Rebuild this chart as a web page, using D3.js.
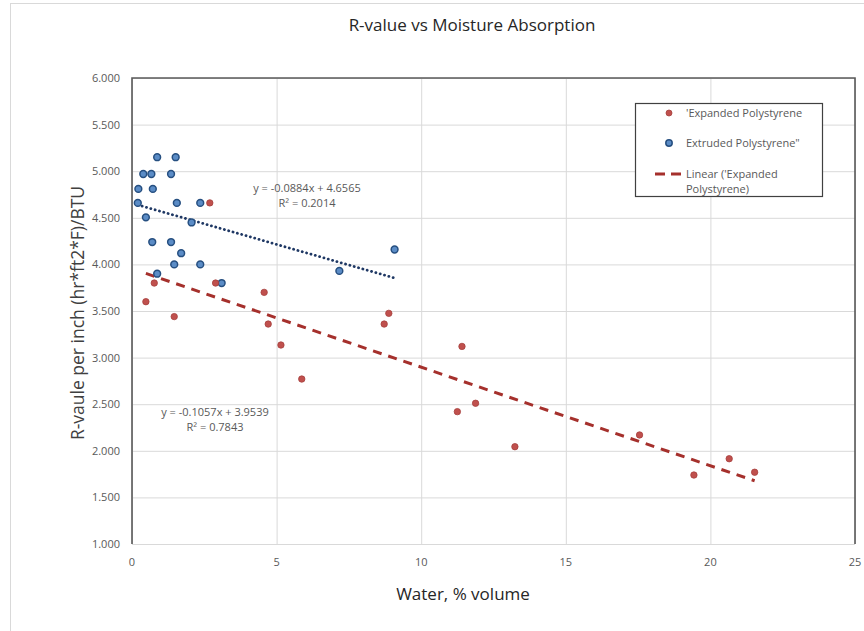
<!DOCTYPE html>
<html>
<head>
<meta charset="utf-8">
<script src="https://cdn.jsdelivr.net/npm/d3@7"></script>
<style>
  body { margin: 0; background: #fff; }
  text { font-family: "Open Sans", "Noto Sans", sans-serif; }
</style>
</head>
<body>
<script>
var w = 864;
var h = 631;

// Expanded polystyrene (red)
var epsWater = [2.69, 0.77, 2.89, 4.57, 0.48, 1.46, 4.71, 5.15, 5.87, 8.72, 8.88, 11.41, 11.25, 11.88, 13.24, 17.55, 19.43, 20.65, 21.53];
var epsR     = [4.66, 3.80, 3.80, 3.70, 3.60, 3.44, 3.36, 3.135, 2.77, 3.36, 3.475, 3.12, 2.42, 2.51, 2.044, 2.17, 1.74, 1.915, 1.77];

// Extruded polystyrene (blue)
var xpsWater = [0.87, 1.51, 0.39, 0.67, 1.35, 0.22, 0.72, 0.20, 1.55, 2.36, 0.48, 2.06, 0.70, 1.35, 1.70, 1.46, 2.36, 0.87, 3.10, 7.17, 9.08];
var xpsR     = [5.15, 5.15, 4.97, 4.97, 4.97, 4.81, 4.81, 4.66, 4.66, 4.66, 4.505, 4.45, 4.24, 4.24, 4.12, 4.00, 4.00, 3.90, 3.80, 3.93, 4.16];

// trendline coefficients [slope, intercept, r2]
var epsFit = [-0.1057, 3.9539, 0.7843];
var xpsFit = [-0.0884, 4.6565, 0.2014];

var xTicks = [0, 5, 10, 15, 20, 25];
var yTicks = [1, 1.5, 2, 2.5, 3, 3.5, 4, 4.5, 5, 5.5, 6];

var legendLabels = ["'Expanded Polystyrene", "Extruded Polystyrene\"", "Linear ('Expanded", "Polystyrene)"];

var pLeft = 132, pRight = 855, pTop = 78, pBottom = 544;

var svg = d3.select("body").append("svg")
    .attr("width", w)
    .attr("height", h);

// outer chart frame
svg.append("rect")
   .attr("x", 10.5).attr("y", 3.5)
   .attr("width", w + 20).attr("height", h + 20)
   .attr("fill", "none")
   .attr("stroke", "#d9d9d9");

var x = d3.scaleLinear().domain([0, 25]).range([pLeft, pRight]);
var y = d3.scaleLinear().domain([1, 6]).range([pBottom, pTop]);

// grid
svg.append("g")
   .attr("transform", "translate(0," + pBottom + ")")
   .call(d3.axisBottom(x).tickValues(xTicks).tickSize(-(pBottom - pTop)).tickFormat(""))
   .call(function(g) { g.select(".domain").remove(); })
   .selectAll("line").attr("stroke", "#d9d9d9");

svg.append("g")
   .attr("transform", "translate(" + pLeft + ",0)")
   .call(d3.axisLeft(y).tickValues(yTicks).tickSize(-(pRight - pLeft)).tickFormat(""))
   .call(function(g) { g.select(".domain").remove(); })
   .selectAll("line").attr("stroke", "#d9d9d9");

// plot border
svg.append("path")
   .attr("d", "M" + pLeft + "," + pBottom + "V" + pTop + "H" + pRight + "V" + pBottom)
   .attr("fill", "none")
   .attr("stroke", "#595959")
   .attr("stroke-width", 1.6);

// tick labels
svg.append("g").selectAll("text")
   .data(xTicks).enter().append("text")
   .attr("x", function(d) { return x(d); })
   .attr("y", 566)
   .attr("text-anchor", "middle")
   .attr("font-size", 11)
   .attr("fill", "#595959")
   .text(function(d) { return d; });

svg.append("g").selectAll("text")
   .data(yTicks).enter().append("text")
   .attr("x", 120)
   .attr("y", function(d) { return y(d) + 4; })
   .attr("text-anchor", "end")
   .attr("font-size", 11)
   .attr("fill", "#595959")
   .text(function(d) { return d.toFixed(3); });

// titles
svg.append("text")
   .attr("x", 472).attr("y", 31)
   .attr("text-anchor", "middle")
   .attr("font-size", 17)
   .attr("fill", "#262626")
   .text("R-value vs Moisture Absorption");

svg.append("text")
   .attr("x", 463).attr("y", 600)
   .attr("text-anchor", "middle")
   .attr("font-size", 17)
   .attr("fill", "#262626")
   .text("Water, % volume");

svg.append("text")
   .attr("transform", "translate(84,313) rotate(-90)")
   .attr("text-anchor", "middle")
   .attr("font-size", 17.5)
   .attr("fill", "#404040")
   .text("R-vaule per inch (hr*ft2*F)/BTU");

// trendlines over each series' x range
function trend(fit, xs) {
  var x0 = d3.min(xs), x1 = d3.max(xs);
  return [[x0, fit[0] * x0 + fit[1]], [x1, fit[0] * x1 + fit[1]]];
}
var line = d3.line().x(function(d) { return x(d[0]); }).y(function(d) { return y(d[1]); });

svg.append("path")
   .attr("d", line(trend(xpsFit, xpsWater)))
   .attr("stroke", "#1f3864")
   .attr("stroke-width", 2.8)
   .attr("stroke-dasharray", "0.1 4.4")
   .attr("stroke-linecap", "round")
   .attr("fill", "none");

svg.append("path")
   .attr("d", line(trend(epsFit, epsWater)))
   .attr("stroke", "#a5302c")
   .attr("stroke-width", 3)
   .attr("stroke-dasharray", "9 7")
   .attr("fill", "none");

// points
svg.append("g").selectAll("circle")
   .data(d3.zip(xpsWater, xpsR)).enter().append("circle")
   .attr("cx", function(d) { return x(d[0]); })
   .attr("cy", function(d) { return y(d[1]); })
   .attr("r", 3.4)
   .attr("fill", "#5b8cc6")
   .attr("stroke", "#264f80")
   .attr("stroke-width", 1.5);

svg.append("g").selectAll("circle")
   .data(d3.zip(epsWater, epsR)).enter().append("circle")
   .attr("cx", function(d) { return x(d[0]); })
   .attr("cy", function(d) { return y(d[1]); })
   .attr("r", 3.2)
   .attr("fill", "#c0504d")
   .attr("stroke", "#a6403d")
   .attr("stroke-width", 0.8);

// equation labels
function eqLabel(fit, cx, cy) {
  var g = svg.append("g").attr("font-size", 11).attr("fill", "#595959").attr("text-anchor", "middle");
  g.append("text").attr("x", cx).attr("y", cy)
   .text("y = " + fit[0].toFixed(4) + "x + " + fit[1].toFixed(4));
  g.append("text").attr("x", cx).attr("y", cy + 15)
   .text("R\u00b2 = " + fit[2].toFixed(4));
}
eqLabel(xpsFit, 307, 192);
eqLabel(epsFit, 215, 416);

// legend
var lg = svg.append("g");
lg.append("rect")
  .attr("x", 635.5).attr("y", 103.5)
  .attr("width", 187).attr("height", 93)
  .attr("fill", "#fff")
  .attr("stroke", "#404040")
  .attr("stroke-width", 1.2);
lg.append("circle").attr("cx", 669).attr("cy", 113).attr("r", 3)
  .attr("fill", "#c0504d").attr("stroke", "#a6403d").attr("stroke-width", 0.8);
lg.append("circle").attr("cx", 669).attr("cy", 143).attr("r", 3.2)
  .attr("fill", "#5b8cc6").attr("stroke", "#264f80").attr("stroke-width", 1.5);
lg.append("line").attr("x1", 655).attr("x2", 684).attr("y1", 174).attr("y2", 174)
  .attr("stroke", "#a5302c").attr("stroke-width", 3).attr("stroke-dasharray", "10 6");
var ly = [117, 147, 178, 193];
lg.selectAll("text.lbl")
  .data(legendLabels).enter().append("text")
  .attr("x", 686)
  .attr("y", function(d, i) { return ly[i]; })
  .attr("font-size", 11)
  .attr("fill", "#595959")
  .text(function(d) { return d; });
</script>
</body>
</html>
